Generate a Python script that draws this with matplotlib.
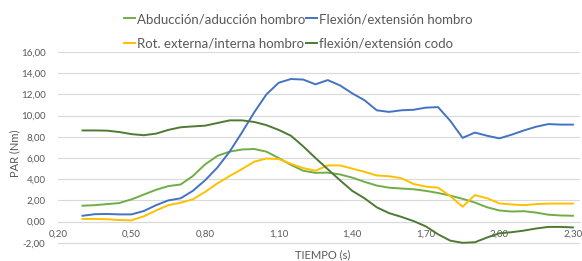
import matplotlib
matplotlib.use("Agg")
import matplotlib.pyplot as plt
from matplotlib.ticker import FixedLocator, FuncFormatter

tiempo = [0.30, 0.35, 0.40, 0.45, 0.50, 0.55, 0.60, 0.65, 0.70, 0.75, 0.80,
          0.85, 0.90, 0.95, 1.00, 1.05, 1.10, 1.15, 1.20, 1.25, 1.30, 1.35,
          1.40, 1.45, 1.50, 1.55, 1.60, 1.65, 1.70, 1.75, 1.80, 1.85, 1.90,
          1.95, 2.00, 2.05, 2.10, 2.15, 2.20, 2.25, 2.30]

abduccion_hombro = [1.50, 1.55, 1.65, 1.75, 2.10, 2.55, 3.00, 3.35, 3.50, 4.30, 5.40,
                    6.20, 6.60, 6.80, 6.85, 6.60, 6.00, 5.35, 4.80, 4.60, 4.62, 4.45,
                    4.15, 3.75, 3.40, 3.20, 3.12, 3.05, 2.90, 2.70, 2.45, 2.15, 1.80,
                    1.35, 1.05, 0.95, 0.98, 0.85, 0.65, 0.58, 0.55]

flexion_hombro = [0.55, 0.70, 0.72, 0.68, 0.68, 1.00, 1.55, 2.00, 2.20, 2.90, 3.90,
                  5.10, 6.60, 8.40, 10.30, 12.00, 13.10, 13.45, 13.40, 12.95, 13.35, 12.85,
                  12.10, 11.45, 10.50, 10.35, 10.50, 10.55, 10.75, 10.80, 9.50, 7.90, 8.40,
                  8.10, 7.85, 8.20, 8.60, 8.95, 9.20, 9.15, 9.15]

rotacion_hombro = [0.25, 0.25, 0.22, 0.15, 0.12, 0.50, 1.05, 1.55, 1.78, 2.10, 2.80,
                   3.60, 4.30, 4.95, 5.65, 5.95, 5.90, 5.45, 5.05, 4.80, 5.30, 5.30,
                   5.00, 4.70, 4.35, 4.28, 4.10, 3.55, 3.30, 3.20, 2.40, 1.40, 2.50,
                   2.20, 1.72, 1.62, 1.55, 1.65, 1.70, 1.70, 1.70]

flexion_codo = [8.60, 8.60, 8.58, 8.45, 8.25, 8.15, 8.30, 8.65, 8.90, 8.98, 9.05,
                9.30, 9.55, 9.55, 9.40, 9.10, 8.65, 8.10, 7.10, 6.00, 4.95, 3.90,
                2.90, 2.20, 1.35, 0.80, 0.45, 0.05, -0.45, -1.20, -1.80, -2.00, -1.95,
                -1.50, -1.10, -1.00, -0.85, -0.65, -0.50, -0.50, -0.55]

labels = ["Abducción/aducción hombro", "Flexión/extensión hombro",
          "Rot. externa/interna hombro", "flexión/extensión codo"]
colors = ["#70AD47", "#4472C4", "#FFC000", "#4E7A34"]

x_ticks = [0.20, 0.50, 0.80, 1.10, 1.40, 1.70, 2.00, 2.30]
y_ticks = [-4, -2, 0, 2, 4, 6, 8, 10, 12, 14, 16]

plt.rcParams['font.family'] = ['Lato', 'DejaVu Sans']
txt = "#595959"

fig = plt.figure(figsize=(5.82, 2.61), dpi=100)
W, H = 582, 261
left, right = 58 / W, 580 / W
top, bottom = 1 - 52 / H, 1 - 264 / H
ax = fig.add_axes([left, bottom, right - left, top - bottom])
ax.set_xlim(0.2, 0.2 + (580 - 58) / 245.2)
ax.set_ylim(-4, 16)

series = [abduccion_hombro, flexion_hombro, rotacion_hombro, flexion_codo]
lines = []
for s, c, l in zip(series, colors, labels):
    ln, = ax.plot(tiempo, s, color=c, lw=1.4, label=l, solid_joinstyle='round', zorder=3)
    lines.append(ln)

for sp in ['top', 'right', 'left']:
    ax.spines[sp].set_visible(False)
ax.spines['bottom'].set_position(('data', 0))
ax.spines['bottom'].set_color('#D9D9D9')
ax.spines['bottom'].set_linewidth(0.8)

ax.yaxis.set_major_locator(FixedLocator(y_ticks))
ax.xaxis.set_major_locator(FixedLocator(x_ticks))
fmt = FuncFormatter(lambda v, p: f"{v:.2f}".replace('.', ','))
ax.yaxis.set_major_formatter(fmt)
ax.xaxis.set_major_formatter(fmt)
ax.grid(axis='y', color='#D9D9D9', lw=0.8, zorder=0)
ax.tick_params(axis='both', length=0, labelsize=7, colors=txt)
ax.tick_params(axis='y', pad=9)
ax.tick_params(axis='x', pad=6)

fig.text(15 / W, 1 - 153 / H, "PAR (Nm)", rotation=90, ha='center', va='center',
         fontsize=8, color=txt)
fig.text(323 / W, 1 - 255 / H, "TIEMPO (s)", ha='center', va='center',
         fontsize=8, color=txt)

order = [0, 2, 1, 3]
leg = fig.legend([lines[i] for i in order], [labels[i] for i in order],
                 ncol=2, loc='upper left', bbox_to_anchor=(124 / W, 1 - 13 / H),
                 frameon=False, fontsize=9.5, handlelength=0.8, handletextpad=0.15,
                 columnspacing=0.1, labelspacing=0.95, borderpad=0, borderaxespad=0)
for t in leg.get_texts():
    t.set_color(txt)

fig.savefig("out.png", dpi=100)
